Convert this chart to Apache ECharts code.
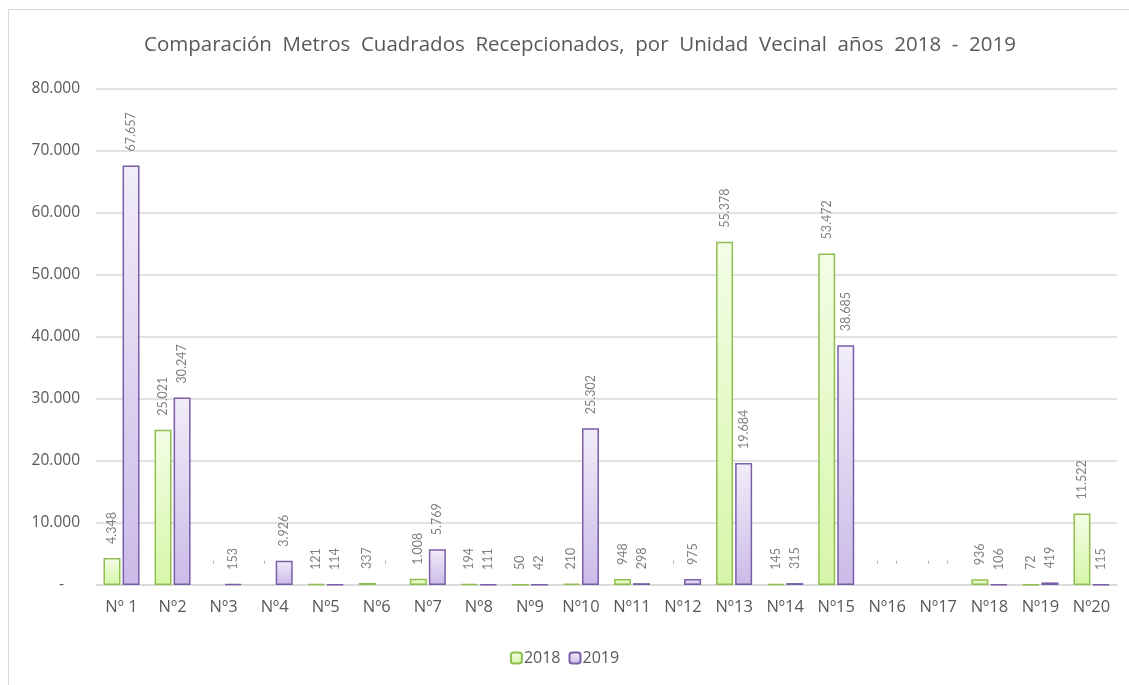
<!DOCTYPE html>
<html>
<head>
<meta charset="utf-8">
<script src="https://cdn.jsdelivr.net/npm/echarts@6/dist/echarts.min.js"></script>
<style>
    html, body { margin: 0; padding: 0; background: #fff; overflow: hidden; }
    #frame { position: absolute; left: 8px; top: 9px; width: 1140px; height: 700px; border: 1.5px solid #d9d9d9; }
    #chart { position: absolute; left: 0; top: 0; width: 1129px; height: 685px; }
</style>
</head>
<body>
<div id="frame"></div>
<div id="chart"></div>
<script>
const unidades = ['Nº 1', 'Nº2', 'Nº3', 'Nº4', 'Nº5', 'Nº6', 'Nº7', 'Nº8', 'Nº9', 'Nº10',
    'Nº11', 'Nº12', 'Nº13', 'Nº14', 'Nº15', 'Nº16', 'Nº17', 'Nº18', 'Nº19', 'Nº20'];
const m2_2018 = [4348, 25021, 0, 0, 121, 337, 1008, 194, 50, 210,
    948, 0, 55378, 145, 53472, 0, 0, 936, 72, 11522];
const m2_2019 = [67657, 30247, 153, 3926, 114, 0, 5769, 111, 42, 25302,
    298, 975, 19684, 315, 38685, 0, 0, 106, 419, 115];
const yTicks = {min: 0, max: 80000, interval: 10000};

function formatNumber(v) {
    if (v === 0) return '  -';
    return String(v).replace(/\B(?=(\d{3})+(?!\d))/g, '.');
}

function grad(top, bottom) {
    return new echarts.graphic.LinearGradient(0, 0, 0, 1, [
        {offset: 0, color: top},
        {offset: 1, color: bottom}
    ]);
}

// Excel no dibuja barra cuando el valor es cero, solo la etiqueta "-"
function toItems(values) {
    return values.map(v => v === 0
        ? {value: v, itemStyle: {borderWidth: 0, color: 'rgba(0,0,0,0)'}, label: {color: '#b0b0b0'}}
        : v);
}

let chartDom = document.getElementById('chart');
let myChart = echarts.init(chartDom);

let labelStyle = {
    show: true,
    position: 'top',
    rotate: 90,
    align: 'left',
    verticalAlign: 'middle',
    distance: 14,
    color: '#808080',
    fontSize: 12.5,
    fontFamily: 'Lato',
    formatter: function (p) {
        return formatNumber(p.value);
    }
};

let option = {
    animation: false,
    title: {
        text: 'Comparación  Metros  Cuadrados  Recepcionados,  por  Unidad  Vecinal  años  2018  -  2019',
        left: 575,
        textAlign: 'center',
        top: 30,
        textStyle: {
            color: '#595959',
            fontSize: 20.5,
            fontWeight: 'normal',
            fontFamily: 'Open Sans'
        }
    },
    legend: {
        bottom: 14,
        left: 'center',
        itemWidth: 11,
        itemHeight: 11,
        itemGap: 8,
        textStyle: {
            color: '#595959',
            fontSize: 16,
            fontFamily: 'Open Sans',
            padding: [0, 0, 0, -3]
        },
        data: ['2018', '2019']
    },
    grid: {
        left: 96,
        right: 12,
        top: 89,
        bottom: 100,
        containLabel: false
    },
    xAxis: {
        type: 'category',
        data: unidades,
        axisLine: {lineStyle: {color: '#d9d9d9', width: 1.5}},
        axisTick: {show: false},
        axisLabel: {
            color: '#595959',
            fontSize: 16.5,
            fontFamily: 'Open Sans',
            margin: 14
        }
    },
    yAxis: {
        type: 'value',
        min: yTicks.min,
        max: yTicks.max,
        interval: yTicks.interval,
        axisLine: {show: false},
        axisTick: {show: false},
        splitLine: {lineStyle: {color: '#d9d9d9', width: 1.5}},
        axisLabel: {
            color: '#595959',
            fontSize: 15.5,
            fontFamily: 'Open Sans',
            margin: 16,
            formatter: function (v) {
                return v === 0 ? '-    ' : formatNumber(v);
            }
        }
    },
    series: [
        {
            name: '2018',
            type: 'bar',
            data: toItems(m2_2018),
            barWidth: 17,
            barGap: '12%',
            itemStyle: {
                color: grad('#f3fde6', '#d6f6a8'),
                borderColor: '#8fbf4f',
                borderWidth: 1.5
            },
            label: labelStyle
        },
        {
            name: '2019',
            type: 'bar',
            data: toItems(m2_2019),
            barWidth: 17,
            itemStyle: {
                color: grad('#f1edf9', '#cbbbe8'),
                borderColor: '#7a5ea8',
                borderWidth: 1.5
            },
            label: labelStyle
        }
    ]
};
option && myChart.setOption(option);
</script>
</body>
</html>
